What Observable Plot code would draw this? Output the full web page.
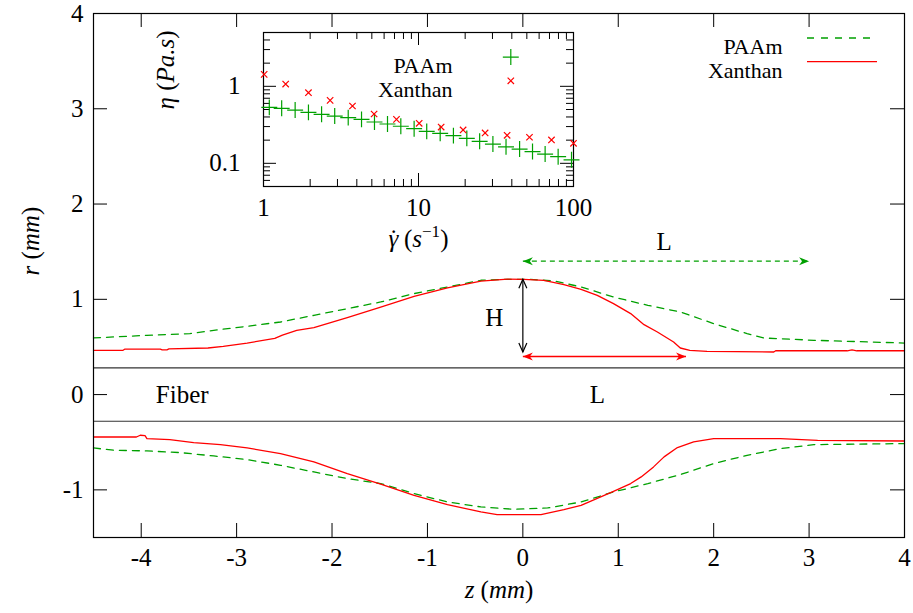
<!DOCTYPE html>
<html><head><meta charset="utf-8">
<script src="https://cdn.jsdelivr.net/npm/d3@7"></script>
<script src="https://cdn.jsdelivr.net/npm/@observablehq/plot@0.6"></script>
<style>
body{margin:0;background:#fff}
#wrap{position:relative;width:913px;height:613px;background:#fff}
#wrap svg{position:absolute;left:0;top:0}
#wrap svg text{font-family:"Liberation Serif","DejaVu Serif",serif !important}
</style></head><body><div id="wrap"></div>
<script>
// ---------- main chart data: interface profiles r(z) ----------
const paamUpperZ = [-4.5,-3.94,-3.49,-3.24,-2.89,-2.54,-2.19,-1.84,-1.49,-1.14,-0.79,-0.44,-0.16,0.08,0.33,0.61,0.95,1.31,1.65,2.0,2.35,2.53,3.05,4.0];
const paamUpperR = [0.595,0.622,0.64,0.675,0.717,0.762,0.832,0.902,0.972,1.06,1.129,1.2,1.21,1.21,1.192,1.13,1.024,0.937,0.867,0.745,0.64,0.594,0.57,0.541];
const paamLowerZ = [-4.5,-4.29,-3.94,-3.59,-3.24,-2.89,-2.54,-2.19,-1.84,-1.49,-1.14,-0.79,-0.44,-0.09,0.26,0.61,0.95,1.31,1.65,2.0,2.35,2.7,3.05,4.0];
const paamLowerR = [-0.56,-0.584,-0.591,-0.609,-0.644,-0.682,-0.742,-0.812,-0.882,-0.934,-1.039,-1.127,-1.179,-1.204,-1.19,-1.127,-1.022,-0.934,-0.84,-0.724,-0.637,-0.567,-0.525,-0.514];
const xanUpperZ = [-4.5,-4.19,-4.17,-3.8,-3.78,-3.73,-3.71,-3.3,-3.14,-2.89,-2.6,-2.52,-2.37,-2.19,-1.84,-1.49,-1.14,-0.79,-0.44,-0.16,0.01,0.22,0.43,0.61,0.78,0.95,1.13,1.27,1.41,1.58,1.65,1.75,1.93,2.63,2.65,3.4,3.45,3.5,4.0];
const xanUpperR = [0.465,0.465,0.478,0.478,0.47,0.47,0.48,0.489,0.507,0.541,0.59,0.625,0.675,0.703,0.808,0.919,1.031,1.119,1.192,1.213,1.21,1.199,1.154,1.105,1.042,0.955,0.85,0.734,0.657,0.552,0.489,0.465,0.454,0.447,0.46,0.46,0.47,0.46,0.46];
const xanLowerZ = [-4.5,-4.05,-4.01,-3.96,-3.94,-3.7,-3.45,-3.17,-2.89,-2.54,-2.19,-1.84,-1.49,-1.14,-0.79,-0.44,-0.27,0.19,0.43,0.61,0.78,0.95,1.13,1.24,1.37,1.48,1.62,1.79,2.0,2.7,3.09,4.0];
const xanLowerR = [-0.445,-0.445,-0.427,-0.43,-0.462,-0.472,-0.504,-0.525,-0.56,-0.619,-0.707,-0.829,-0.941,-1.057,-1.154,-1.232,-1.26,-1.26,-1.207,-1.162,-1.09,-1.015,-0.934,-0.864,-0.759,-0.654,-0.556,-0.497,-0.462,-0.462,-0.48,-0.487];
const fiberRadius = 0.28;
const xTicks = [-4,-3,-2,-1,0,1,2,3,4];
const yTicks = [-1,0,1,2,3,4];
const seriesNames = ["PAAm","Xanthan"];

// annotation arrows (z, r in mm)
const arrowPAAmL = {x1:0, y1:1.40, x2:3.0, y2:1.40};
const arrowXanL  = {x1:0, y1:0.40, x2:1.71, y2:0.40};
const arrowH     = {x1:0, y1:0.447, x2:0, y2:1.21};
const labels = [
  {z:-3.57, r:0.0, t:"Fiber"},
  {z:0.78, r:0.0, t:"L"},
  {z:-0.30, r:0.80, t:"H"},
  {z:1.48, r:1.60, t:"L"}
];

// ---------- inset data: viscosity vs shear rate ----------
const paamRate = [1.09,1.31,1.60,1.95,2.37,2.88,3.52,4.29,5.20,6.31,7.69,9.37,11.3,13.8,16.8,20.5,24.8,30.2,36.7,44.9,54.4,65.6,79.6,97.1];
const paamEta  = [0.533,0.518,0.492,0.459,0.433,0.411,0.392,0.372,0.344,0.324,0.303,0.282,0.260,0.245,0.229,0.211,0.193,0.178,0.164,0.153,0.142,0.132,0.122,0.111];
const xanRate  = [1.01,1.39,1.95,2.69,3.75,5.17,7.21,10.1,14.0,19.4,26.9,37.3,52.0,72.1,100];
const xanEta   = [1.43,1.07,0.826,0.657,0.555,0.437,0.372,0.331,0.296,0.271,0.248,0.231,0.218,0.201,0.182];
const insetXTicks = [1,10,100];
const insetXMinor = [2,3,4,5,6,7,8,9,20,30,40,50,60,70,80,90];
const insetYTicks = [0.1,1];
const insetYMinor = [0.06,0.07,0.08,0.09,0.2,0.3,0.4,0.5,0.6,0.7,0.8,0.9,2,3,4];
// inset legend anchor (shear rate, viscosity) for the symbol column
const insetLegendRate = 39.4;
const insetLegendEta = [2.40, 1.18];

// ---------- styles ----------
const green = "#00a000", red = "#ff0000";
const font = "'Liberation Serif', 'DejaVu Serif', serif";
const W = 913, H = 613, mL = 93, mR = 9, mT = 13, mB = 76;
const fw = W - mL - mR, fh = H - mT - mB;
const TL = 14;
const legendFont = 22;

const pts = (zs, rs) => zs.map((z, i) => ({z, r: rs[i]}));

const headFilled = {draw(c){ c.moveTo(0,0); c.lineTo(-10,-4); c.lineTo(-7,0); c.lineTo(-10,4); c.closePath(); }};
const headOpen = {draw(c){ c.moveTo(-9,-4); c.lineTo(0,0); c.lineTo(-9,4); }};

function heads(a, color, filled) {
  const vertical = a.x1 === a.x2;
  const data = [
    {x: a.x2, y: a.y2, rot: vertical ? (a.y2 > a.y1 ? -90 : 90) : 0},
    {x: a.x1, y: a.y1, rot: vertical ? (a.y2 > a.y1 ? 90 : -90) : 180}
  ];
  return Plot.dot(data, {x: "x", y: "y", rotate: "rot", symbol: filled ? headFilled : headOpen,
    fill: filled ? color : "none", stroke: filled ? "none" : color, strokeWidth: 1.2, r: 5});
}

function legendLines(index, scales, values, dims) {
  const g = d3.create("svg:g");
  const right = dims.width - dims.marginRight, top = dims.marginTop;
  g.append("line").attr("x1", right - 97).attr("x2", right - 27).attr("y1", top + 25).attr("y2", top + 25)
    .attr("stroke", green).attr("stroke-width", 1.3).attr("stroke-dasharray", "7,7");
  g.append("line").attr("x1", right - 97).attr("x2", right - 27).attr("y1", top + 48.7).attr("y2", top + 48.7)
    .attr("stroke", red).attr("stroke-width", 1.3);
  return g.node();
}

const main = Plot.plot({
  width: W, height: H, marginLeft: mL, marginRight: mR, marginTop: mT, marginBottom: mB,
  style: {fontFamily: font, fontSize: "25px", background: "transparent", overflow: "visible", color: "black"},
  x: {domain: [-4.5, 4]},
  y: {domain: [-1.5, 4]},
  marks: [
    Plot.ruleY([fiberRadius, -fiberRadius], {stroke: "#333", strokeWidth: 1.1}),
    Plot.line(pts(paamUpperZ, paamUpperR), {x: "z", y: "r", stroke: green, strokeWidth: 1.3, strokeDasharray: "7,6"}),
    Plot.line(pts(paamLowerZ, paamLowerR), {x: "z", y: "r", stroke: green, strokeWidth: 1.3, strokeDasharray: "7,6"}),
    Plot.line(pts(xanUpperZ, xanUpperR), {x: "z", y: "r", stroke: red, strokeWidth: 1.3}),
    Plot.line(pts(xanLowerZ, xanLowerR), {x: "z", y: "r", stroke: red, strokeWidth: 1.3}),
    Plot.link([arrowPAAmL], {x1: "x1", y1: "y1", x2: "x2", y2: "y2", stroke: green, strokeWidth: 1.2, strokeDasharray: "5,4"}),
    heads(arrowPAAmL, green, true),
    Plot.link([arrowXanL], {x1: "x1", y1: "y1", x2: "x2", y2: "y2", stroke: red, strokeWidth: 1.4}),
    heads(arrowXanL, red, true),
    Plot.link([arrowH], {x1: "x1", y1: "y1", x2: "x2", y2: "y2", stroke: "black", strokeWidth: 1.2}),
    heads(arrowH, "black", false),
    Plot.text(labels, {x: "z", y: "r", text: "t", fill: "black"}),
    Plot.frame({stroke: "black", strokeWidth: 1.2}),
    Plot.tickX(xTicks, {x: d => d, insetTop: fh - TL, stroke: "black"}),
    Plot.tickX(xTicks, {x: d => d, insetBottom: fh - TL, stroke: "black"}),
    Plot.tickY(yTicks, {y: d => d, insetRight: fw - TL, stroke: "black"}),
    Plot.tickY(yTicks, {y: d => d, insetLeft: fw - TL, stroke: "black"}),
    Plot.axisX({ticks: xTicks, anchor: "bottom", tickSize: 0, tickPadding: 11, tickFormat: d => String(d), label: null}),
    Plot.axisY({ticks: yTicks, anchor: "left", tickSize: 0, tickPadding: 10, tickFormat: d => String(d), label: null}),
    Plot.text(["z (mm)"], {frameAnchor: "bottom", dy: 60}),
    Plot.text(["r (mm)"], {frameAnchor: "left", rotate: -90, dx: -63}),
    Plot.text([seriesNames[0]], {frameAnchor: "top-right", textAnchor: "end", dx: -122, dy: 25, fontSize: legendFont}),
    Plot.text([seriesNames[1]], {frameAnchor: "top-right", textAnchor: "end", dx: -122, dy: 48.7, fontSize: legendFont}),
    legendLines
  ]
});

// ---------- inset ----------
const iL = 110, iR = 20, iT = 5, iB = 70, ifw = 310, ifh = 154;
const MJ = 13, MN = 7;
const inset = Plot.plot({
  width: iL + ifw + iR, height: iT + ifh + iB,
  marginLeft: iL, marginRight: iR, marginTop: iT, marginBottom: iB,
  style: {fontFamily: font, fontSize: "25px", background: "transparent", overflow: "visible", color: "black"},
  x: {type: "log", domain: [1, 100]},
  y: {type: "log", domain: [0.05, 5]},
  marks: [
    Plot.frame({stroke: "black", strokeWidth: 1.2}),
    Plot.tickX(insetXTicks, {x: d => d, insetTop: ifh - MJ, stroke: "black"}),
    Plot.tickX(insetXTicks, {x: d => d, insetBottom: ifh - MJ, stroke: "black"}),
    Plot.tickX(insetXMinor, {x: d => d, insetTop: ifh - MN, stroke: "black"}),
    Plot.tickX(insetXMinor, {x: d => d, insetBottom: ifh - MN, stroke: "black"}),
    Plot.tickY(insetYTicks, {y: d => d, insetRight: ifw - MJ, stroke: "black"}),
    Plot.tickY(insetYTicks, {y: d => d, insetLeft: ifw - MJ, stroke: "black"}),
    Plot.tickY(insetYMinor, {y: d => d, insetRight: ifw - MN, stroke: "black"}),
    Plot.tickY(insetYMinor, {y: d => d, insetLeft: ifw - MN, stroke: "black"}),
    Plot.axisX({ticks: insetXTicks, anchor: "bottom", tickSize: 0, tickPadding: 12, tickFormat: d => String(d), label: null}),
    Plot.axisY({ticks: insetYTicks, anchor: "left", tickSize: 0, tickPadding: 23, tickFormat: d => String(d), label: null}),
    Plot.dot(pts(paamRate, paamEta), {x: "z", y: "r", symbol: "plus", stroke: green, strokeWidth: 1.2, r: 5.2}),
    Plot.dot(pts(xanRate, xanEta), {x: "z", y: "r", symbol: "times", stroke: red, strokeWidth: 1.2, r: 3.0}),
    Plot.text([seriesNames[0]], {frameAnchor: "top-right", textAnchor: "end", dx: -121, dy: 24.7, fontSize: legendFont}),
    Plot.text([seriesNames[1]], {frameAnchor: "top-right", textAnchor: "end", dx: -121, dy: 48.4, fontSize: legendFont}),
    Plot.dot([{z: insetLegendRate, r: insetLegendEta[0]}], {x: "z", y: "r", symbol: "plus", stroke: green, strokeWidth: 1.2, r: 5.2}),
    Plot.dot([{z: insetLegendRate, r: insetLegendEta[1]}], {x: "z", y: "r", symbol: "times", stroke: red, strokeWidth: 1.2, r: 3.0}),
    Plot.text(["γ̇ (s-1)"], {frameAnchor: "bottom", dy: 60}),
    Plot.text(["η (Pa.s)"], {frameAnchor: "left", rotate: -90, dx: -98})
  ]
});

const wrap = document.getElementById("wrap");
wrap.appendChild(main);
inset.style.left = (mL + 169.7 - iL) + "px";
inset.style.top = (mT + 19.3 - iT) + "px";
wrap.appendChild(inset);

function richText(svg, original, parts) {
  d3.select(svg).selectAll("text").filter(function() { return this.textContent === original; }).each(function() {
    const t = d3.select(this);
    t.text(null);
    parts.forEach(p => {
      const s = t.append("tspan").text(p.t);
      if (p.i) s.attr("font-style", "italic");
      if (p.size) s.attr("font-size", p.size);
      if (p.dy) s.attr("dy", p.dy);
      if (p.dx) s.attr("dx", p.dx);
    });
  });
}
richText(main, "z (mm)", [{t: "z", i: true}, {t: "\u00a0("}, {t: "mm", i: true}, {t: ")"}]);
richText(main, "r (mm)", [{t: "r", i: true}, {t: "\u00a0("}, {t: "mm", i: true}, {t: ")"}]);
richText(inset, "η (Pa.s)", [{t: "η", i: true}, {t: "\u00a0("}, {t: "Pa.s", i: true}, {t: ")"}]);
richText(inset, "γ̇ (s-1)", [{t: "γ", i: true}, {t: "\u02d9", dx: -9}, {t: "\u00a0("}, {t: "s", i: true}, {t: "−1", size: 17, dy: -10}, {t: ")", dy: 10}]);
</script></body></html>
